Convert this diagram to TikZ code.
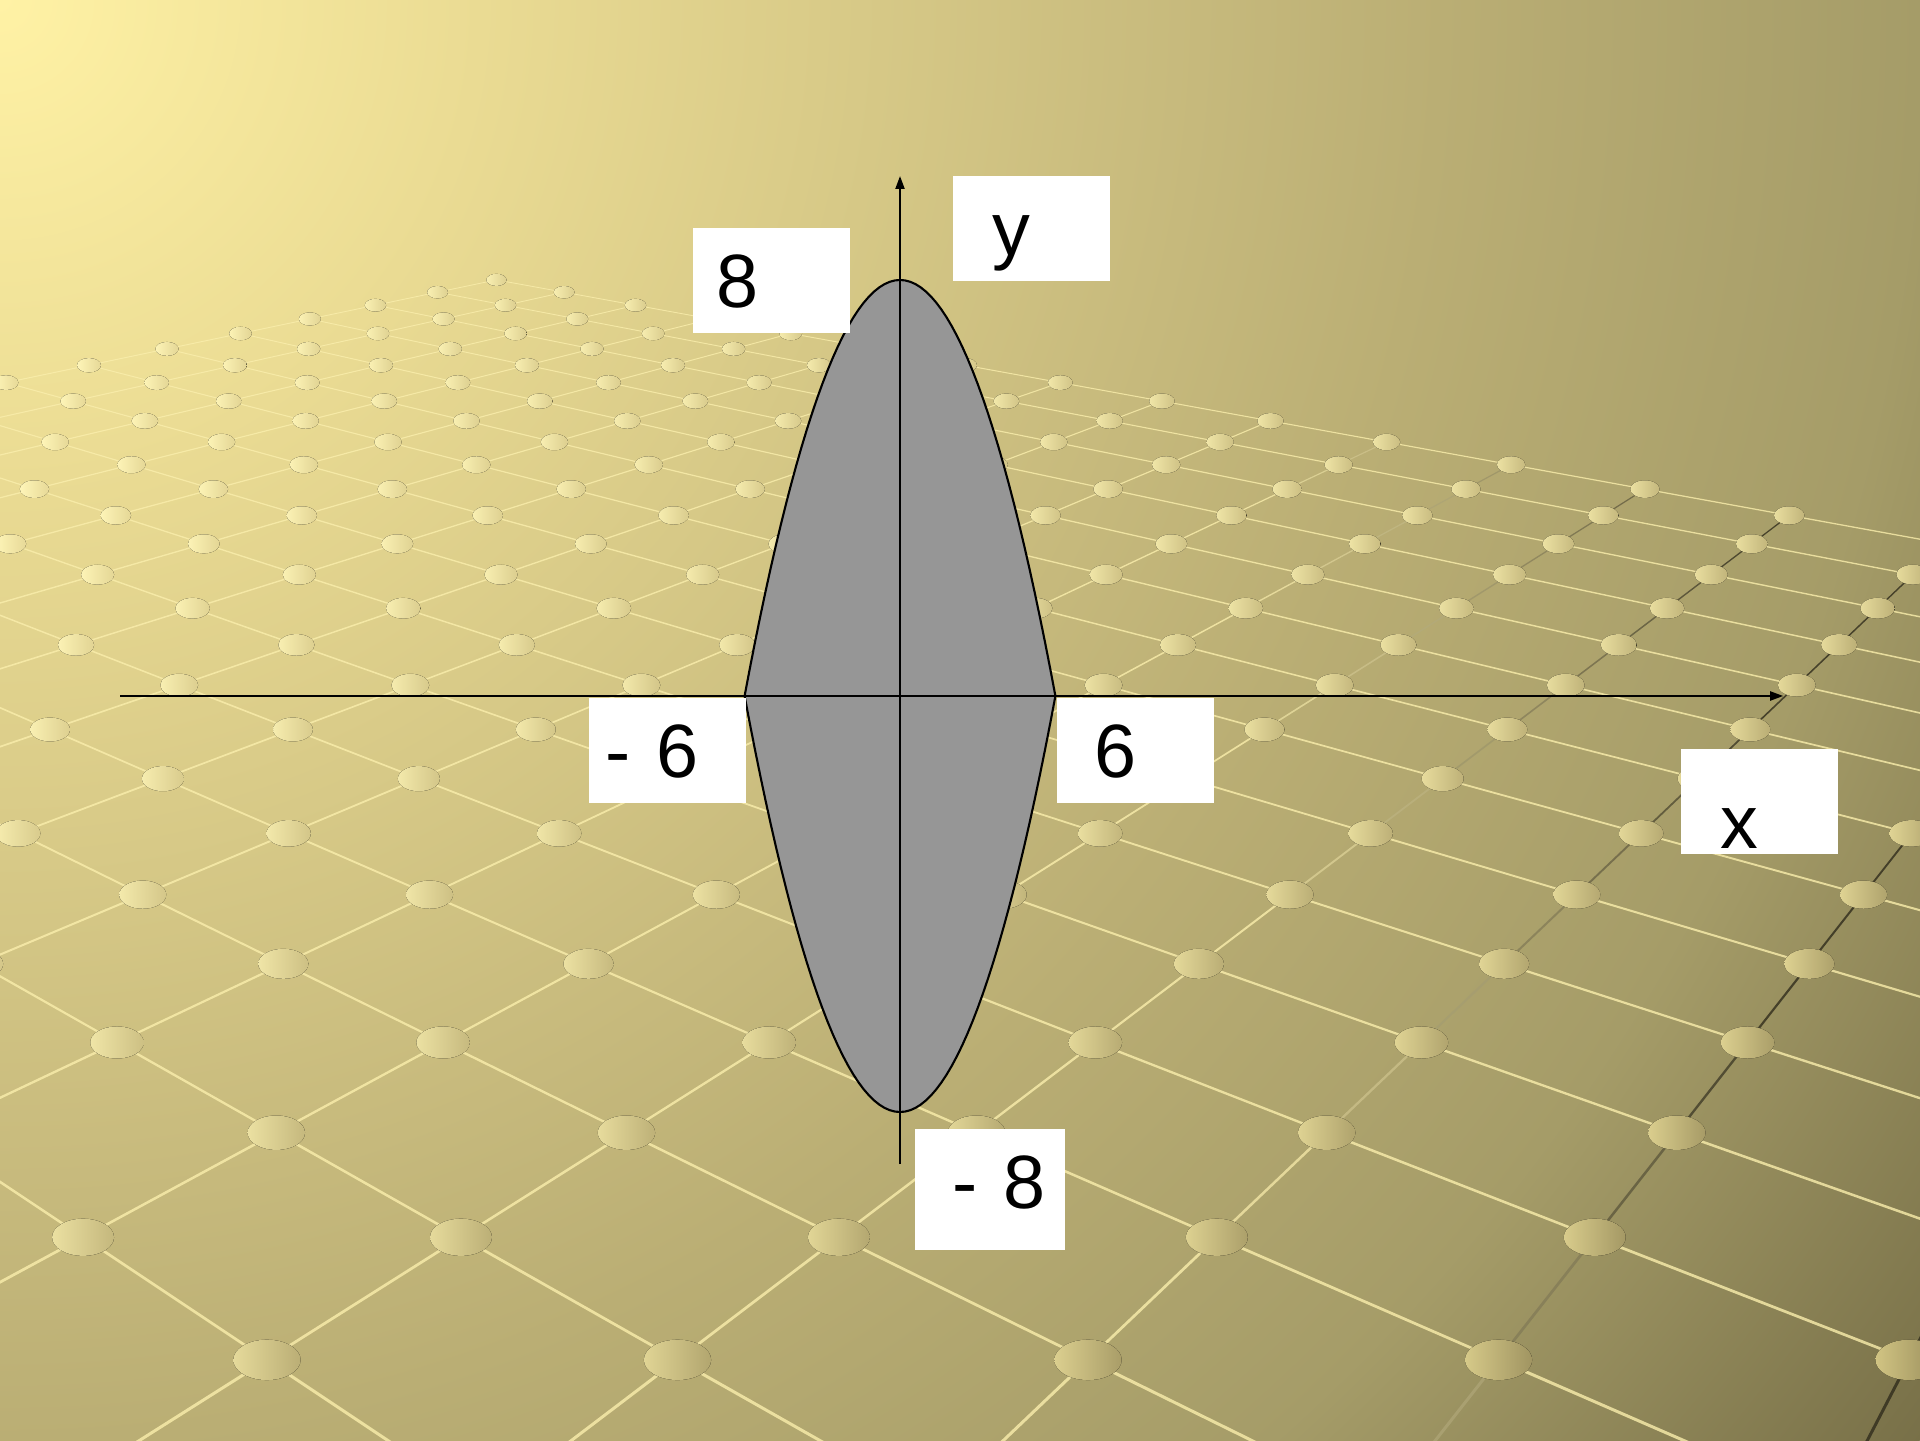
\documentclass[tikz,border=0pt]{standalone}
\usepackage{fontspec}
\setmainfont{Liberation Sans}
\usetikzlibrary{arrows.meta}

\definecolor{bgA}{RGB}{255,242,165}
\definecolor{bgB}{RGB}{234,219,147}
\definecolor{bgC}{RGB}{198,185,124}
\definecolor{bgD}{RGB}{186,174,116}
\definecolor{bgE}{RGB}{165,156,104}
\definecolor{bgF}{RGB}{120,112,72}
\definecolor{lnLight}{RGB}{250,238,172}
\definecolor{lnDark}{RGB}{48,44,28}
\definecolor{dotLA}{RGB}{255,246,185}
\definecolor{dotLB}{RGB}{200,186,120}
\definecolor{dotRA}{RGB}{232,218,152}
\definecolor{dotRB}{RGB}{135,124,78}
\definecolor{regiongray}{RGB}{150,150,150}

\pgfdeclareradialshading{bgshade}{\pgfpoint{0bp}{0bp}}{%
  color(0bp)=(bgA); color(5bp)=(bgB); color(12.5bp)=(bgC);
  color(15bp)=(bgD); color(20bp)=(bgE); color(25bp)=(bgF); color(50bp)=(bgF)}

\tikzset{axisline/.style={line width=0.6pt,-{Triangle[length=0.13cm,width=0.09cm]}}}
\tikzset{region/.style={draw=black,line width=0.6pt,fill=regiongray}}
\tikzset{gridline/.style={line cap=round,opacity=0.8}}
\tikzset{lbl/.style={fill=white,inner sep=0pt,anchor=north west,align=left,
    text width=1.57cm,text height=0.8cm,text depth=0.25cm,
    font=\fontsize{21.5}{25}\selectfont}}

\begin{document}
\begin{tikzpicture}[
  declare function={
    gx(\a,\b)=3.306+23.79*(-0.31+\a-\b)/(11.59+\a+\b);
    gy(\a,\b)=16.237-178.9/(11.59+\a+\b);
  }]

\pgfmathsetmacro{\W}{19.2}
\pgfmathsetmacro{\H}{14.4}

\pgfmathsetmacro{\ox}{9}
\pgfmathsetmacro{\oy}{7.44}
\pgfmathsetmacro{\ux}{0.259}
\pgfmathsetmacro{\uy}{0.52}

\useasboundingbox (0,0) rectangle (\W,\H);

% 背景
\begin{scope}
\clip (0,0) rectangle (\W,\H);
\shade[shading=bgshade] (0,\H) circle (24cm);

% 床の格子線
\foreach \i in {-2,...,15}{
  \foreach \j in {-6,...,12}{
    \pgfmathsetmacro{\Zp}{11.59+\i+\j}
    \pgfmathsetmacro{\sx}{gx(\i,\j)}
    \pgfmathsetmacro{\sy}{gy(\i,\j)}
    \pgfmathsetmacro{\lw}{9/\Zp}
    \ifnum\i<15
      \pgfmathsetmacro{\tx}{gx(\i+1,\j)}
      \pgfmathsetmacro{\ty}{gy(\i+1,\j)}
      \pgfmathtruncatemacro{\q}{min(100,max(0,((\sx+\tx)/2-12.5)*20))}
      \draw[gridline,line width=\lw pt,color=lnDark!\q!lnLight]
          (\sx,\sy) -- (\tx,\ty);
    \fi
    \ifnum\j<12
      \pgfmathsetmacro{\tx}{gx(\i,\j+1)}
      \pgfmathsetmacro{\ty}{gy(\i,\j+1)}
      \draw[gridline,line width=\lw pt,color=lnLight]
          (\sx,\sy) -- (\tx,\ty);
    \fi
  }
}

% 床の丸
\foreach \i in {-2,...,15}{
  \foreach \j in {-6,...,12}{
    \pgfmathsetmacro{\Zp}{11.59+\i+\j}
    \pgfmathsetmacro{\sx}{gx(\i,\j)}
    \pgfmathsetmacro{\sy}{gy(\i,\j)}
    \pgfmathsetmacro{\rx}{3.9/\Zp}
    \pgfmathsetmacro{\ry}{0.6*\rx}
    \pgfmathtruncatemacro{\p}{min(100,max(0,100-2.2*\sx-5*max(0,9-\sy)))}
    \fill[left color=dotLA!\p!dotLB,right color=dotRA!\p!dotRB]
        (\sx,\sy) ellipse [x radius=\rx,y radius=\ry];
  }
}
\end{scope}

% 放物線で囲まれた部分と座標軸
\begin{scope}[shift={(\ox,\oy)},x=\ux cm,y=\uy cm]
\coordinate (xs) at (-30.1,0);
\coordinate (xe) at (34.1,0);
\coordinate (ys) at (0,-9);
\coordinate (ye) at (0,10);

\filldraw[region] plot[domain=-6:6,samples=61] (\x,{8-2*\x*\x/9})
    -- plot[domain=6:-6,samples=61] (\x,{2*\x*\x/9-8}) -- cycle;

\draw[axisline] (xs) -- (xe);
\draw[axisline] (ys) -- (ye);
\end{scope}

% 目盛りと軸の名前
\node[lbl] (lab8) at (6.92,12.13) {\hspace*{0.24cm}8};
\node[lbl] (laby) at (9.52,12.65) {\hspace*{0.40cm}y};
\node[lbl] (labm6) at (5.88,7.43) {\hspace*{0.17cm}- 6};
\node[lbl] (lab6) at (10.56,7.43) {\hspace*{0.38cm}6};
\node[lbl,text height=1.0cm,text depth=0.05cm] (labx) at (16.80,6.92) {\hspace*{0.40cm}x};
\node[lbl,text width=1.50cm,text depth=0.41cm] (labm8) at (9.14,3.12) {\hspace*{0.38cm}- 8};

\end{tikzpicture}
\end{document}
